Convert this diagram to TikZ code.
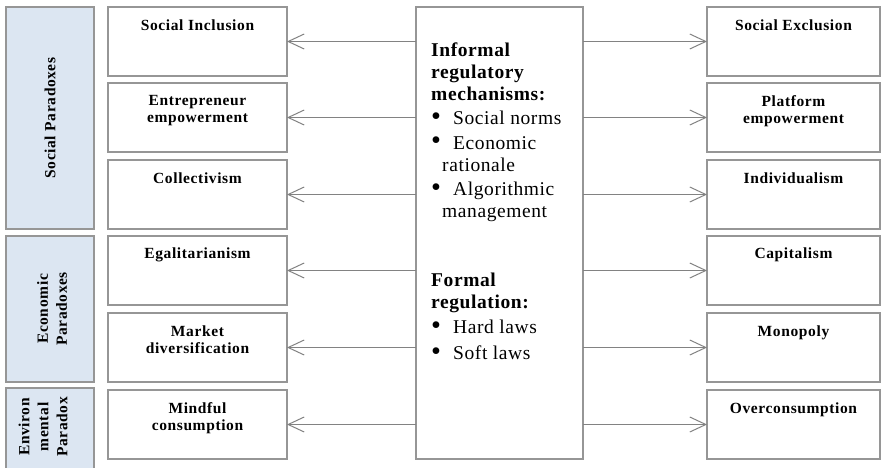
\documentclass[tikz,border=0pt]{standalone}
\usepackage{fontspec}
\usepackage{graphicx}
\setmainfont{Liberation Serif}
\newfontfamily\lblfont[LetterSpace=4]{Liberation Serif}
\newfontfamily\ctrfont[LetterSpace=3]{Liberation Serif}
\usetikzlibrary{arrows.meta}
\definecolor{edgegray}{RGB}{150,150,150}
\definecolor{arrowgray}{RGB}{130,130,130}
\definecolor{paleblue}{RGB}{220,230,242}
\newcommand{\bulletitem}{\makebox[22pt][l]{\raisebox{-0.3pt}{\scalebox{1.45}{•}}}}
\begin{document}
\begin{tikzpicture}[x=1pt,y=-1pt,
  box/.style={draw=edgegray, line width=1.1pt, fill=white, inner sep=0pt, outer sep=0pt, anchor=north west},
  catbox/.style={draw=edgegray, line width=1.1pt, fill=paleblue, inner sep=0pt, outer sep=0pt, anchor=north west, minimum width=88pt},
  pairbox/.style={box, minimum height=69pt},
  lbl/.style={font=\lblfont\bfseries\fontsize{15.5}{17}\selectfont, align=center, inner sep=0pt, anchor=north},
  cat/.style={font=\lblfont\bfseries\fontsize{15.5}{19}\selectfont, align=center, inner sep=0pt, rotate=90},
  ctr/.style={font=\ctrfont\fontsize{19.5}{22}\selectfont, align=left, inner sep=0pt, anchor=north west},
  conn/.style={draw=arrowgray, line width=1pt, -{Straight Barb[length=16pt,width=15pt]}}
]
\useasboundingbox (0,0) rectangle (881,468);
\fill[white] (0,0) rectangle (881,468);

% category boxes
\node[catbox, minimum height=222pt] (cs) at (6,7) {};
\node[catbox, minimum height=146pt] (ce) at (6,236) {};
\node[catbox, minimum height=95pt] (cv) at (6,388) {};
\node[cat] (ts) at (50,118) {Social Paradoxes};
\node[cat] (te) at (52,309) {Economic\\Paradoxes};
\node[cat] (tv) at (43,427) {Environ\\mental\\Paradox};

% left boxes
\node[pairbox, minimum width=179pt] (l1) at (108,7) {};
\node[pairbox, minimum width=179pt] (l2) at (108,83) {};
\node[pairbox, minimum width=179pt] (l3) at (108,160) {};
\node[pairbox, minimum width=179pt] (l4) at (108,236) {};
\node[pairbox, minimum width=179pt] (l5) at (108,313) {};
\node[pairbox, minimum width=179pt] (l6) at (108,390) {};

% right boxes
\node[pairbox, minimum width=173pt] (r1) at (707,7) {};
\node[pairbox, minimum width=173pt] (r2) at (707,83) {};
\node[pairbox, minimum width=173pt] (r3) at (707,160) {};
\node[pairbox, minimum width=173pt] (r4) at (707,236) {};
\node[pairbox, minimum width=173pt] (r5) at (707,313) {};
\node[pairbox, minimum width=173pt] (r6) at (707,390) {};

% centre box
\node[box, minimum width=167pt, minimum height=452pt] (mid) at (416,7) {};

% labels
\node[lbl] (tl1) at ([yshift=-12.5pt]l1.north) {Social Inclusion};
\node[lbl] (tl2) at ([yshift=-12pt]l2.north) {Entrepreneur\\empowerment};
\node[lbl] (tl3) at ([yshift=-12.5pt]l3.north) {Collectivism};
\node[lbl] (tl4) at ([yshift=-12pt]l4.north) {Egalitarianism};
\node[lbl] (tl5) at ([yshift=-12.5pt]l5.north) {Market\\diversification};
\node[lbl] (tl6) at ([yshift=-12.5pt]l6.north) {Mindful\\consumption};

\node[lbl] (tr1) at ([yshift=-12.5pt]r1.north) {Social Exclusion};
\node[lbl] (tr2) at ([yshift=-12pt]r2.north) {Platform\\empowerment};
\node[lbl] (tr3) at ([yshift=-12.5pt]r3.north) {Individualism};
\node[lbl] (tr4) at ([yshift=-12pt]r4.north) {Capitalism};
\node[lbl] (tr5) at ([yshift=-12.5pt]r5.north) {Monopoly};
\node[lbl] (tr6) at ([yshift=-12.5pt]r6.north) {Overconsumption};

% centre texts
\node[ctr] (inf) at (431,42.5) {\textbf{Informal}\\\textbf{regulatory}\\\textbf{mechanisms:}\\[2.5pt]\bulletitem Social norms\\[2.5pt]\bulletitem Economic\\\hspace{11pt}rationale\\[2.5pt]\bulletitem Algorithmic\\\hspace{11pt}management};
\node[ctr] (frm) at (431,272.5) {\textbf{Formal}\\\textbf{regulation:}\\[3.5pt]\bulletitem Hard laws\\[4pt]\bulletitem Soft laws};

% connectors
\foreach \i in {1,...,6}{
  \draw[conn] (mid.west |- l\i.east) -- (l\i.east);
  \draw[conn] (mid.east |- r\i.west) -- (r\i.west);
}
\end{tikzpicture}
\end{document}
